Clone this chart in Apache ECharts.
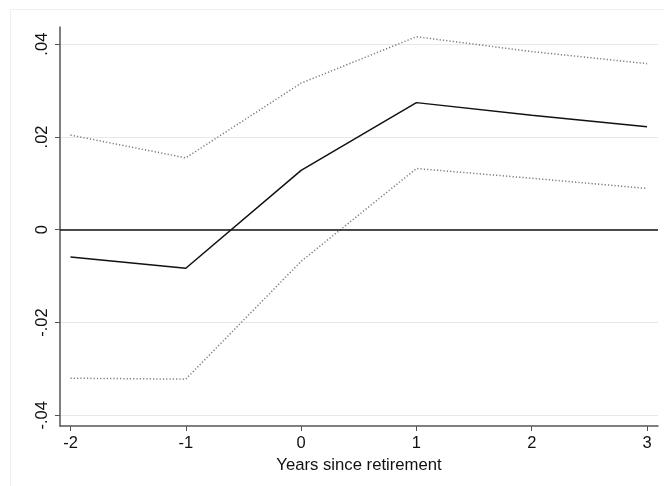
<!DOCTYPE html>
<html>
<head>
<meta charset="utf-8">
<script src="https://cdn.jsdelivr.net/npm/echarts@6/dist/echarts.min.js"></script>
<style>html,body{margin:0;padding:0;background:#fff}#c{width:664px;height:486px}</style>
</head>
<body>
<div id="c"></div>
<script>
var years = [-2, -1, 0, 1, 2, 3];
var estimate = [-0.0059, -0.0083, 0.0128, 0.0274, 0.0247, 0.0222];
var upperCI = [0.0204, 0.0155, 0.0316, 0.0416, 0.0384, 0.0358];
var lowerCI = [-0.0320, -0.0322, -0.0068, 0.0132, 0.0111, 0.0089];
var yTicks = [-0.04, -0.02, 0, 0.02, 0.04];
var xTicks = [-2, -1, 0, 1, 2, 3];
var xTitle = 'Years since retirement';

function pairs(xs, ys) { return xs.map(function (x, i) { return [x, ys[i]]; }); }
function fmtY(v) {
  if (Math.abs(v) < 1e-12) return '0';
  return v.toFixed(2).replace('0.', '.');
}
var font = 'Liberation Sans, Arial, sans-serif';
var chart = echarts.init(document.getElementById('c'), null, {renderer: 'canvas'});
chart.setOption({
  backgroundColor: '#fff',
  animation: false,
  graphic: [{
    type: 'rect', shape: {x: 10.5, y: 9.5, width: 660, height: 480},
    style: {fill: null, stroke: '#f0f0f0', lineWidth: 1}, silent: true
  }],
  grid: {left: 60, right: 6, top: 27, bottom: 60, containLabel: false},
  xAxis: {
    type: 'value', min: -2.091, max: 3.095,
    name: xTitle, nameLocation: 'middle', nameGap: 27,
    nameTextStyle: {fontFamily: font, fontSize: 16.7, color: '#111'},
    axisLine: {show: true, onZero: false, lineStyle: {color: '#555', width: 1.5}},
    axisTick: {show: true, length: 5, customValues: xTicks, lineStyle: {color: '#555'}},
    axisLabel: {customValues: xTicks, margin: 9, fontFamily: font, fontSize: 16.5, color: '#111',
      formatter: function (v) { return String(v); }},
    splitLine: {show: false}
  },
  yAxis: {
    type: 'value', min: -0.0423, max: 0.0437,
    axisLine: {show: true, onZero: false, lineStyle: {color: '#555', width: 1.5}},
    axisTick: {show: true, length: 5, customValues: yTicks, lineStyle: {color: '#555'}},
    axisLabel: {customValues: yTicks, rotate: 90, margin: 9, fontFamily: font, fontSize: 16.5, color: '#111',
      formatter: fmtY},
    splitLine: {show: true, lineStyle: {color: '#e8e8e8', width: 1}}
  },
  series: [
    {
      type: 'line', data: pairs(years, upperCI), symbol: 'none',
      lineStyle: {color: '#7a7a7a', width: 1.5, type: [1.2, 2.1]}
    },
    {
      type: 'line', data: pairs(years, lowerCI), symbol: 'none',
      lineStyle: {color: '#7a7a7a', width: 1.5, type: [1.2, 2.1]}
    },
    {
      type: 'line', data: pairs(years, estimate), symbol: 'none',
      lineStyle: {color: '#111', width: 1.5},
      markLine: {
        silent: true, symbol: 'none', label: {show: false},
        lineStyle: {color: '#111', width: 1.5, type: 'solid'},
        data: [{yAxis: 0}]
      }
    }
  ]
});
</script>
</body>
</html>
